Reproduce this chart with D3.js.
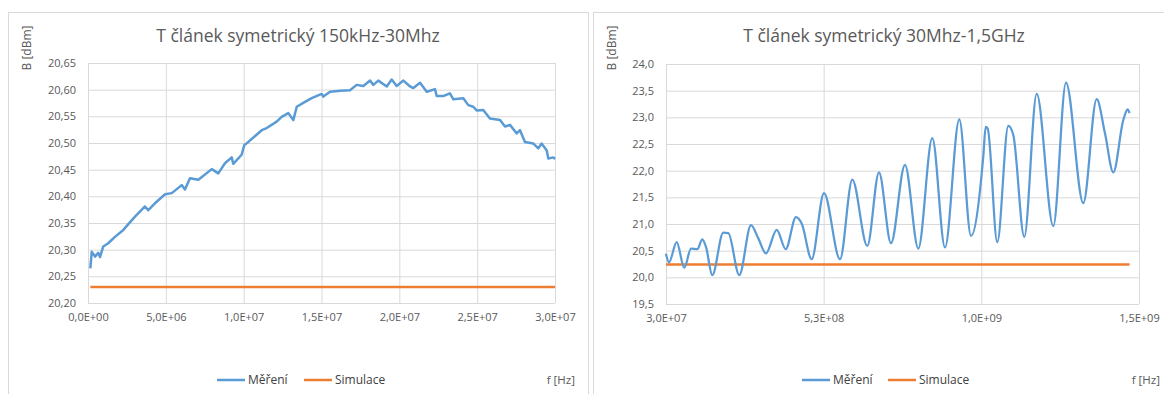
<!DOCTYPE html>
<html lang="cs">
<head>
  <meta charset="UTF-8">
  <style>
    body { margin: 0; background: #fff; }
    svg text { font-family: "Open Sans", sans-serif; fill: #595959; }
    .grid line { stroke: #d9d9d9; stroke-width: 1; }
    .tick text { font-size: 11px; }
    .title { font-size: 17.5px; }
    .frame { fill: none; stroke: #d9d9d9; }
  </style>
  <script src="https://d3js.org/d3.v7.min.js"></script>
</head>
<body>
<svg id="chart"></svg>
<script>

// levy graf: 150kHz - 30MHz (frekvence v MHz)
var freqLeft = [0.15, 0.24, 0.45, 0.66, 0.77, 0.98, 1.30, 1.73, 2.27, 2.59, 3.02, 3.66, 3.87, 4.30, 4.95,
  5.38, 6.02, 6.23, 6.55, 7.09, 7.95, 8.37, 8.80, 9.23, 9.33, 9.87, 10.04, 10.30, 11.16, 11.48, 12.12,
  12.44, 12.87, 13.19, 13.41, 13.94, 14.37, 15.01, 15.12, 15.55, 16.19, 16.83, 17.26, 17.69, 18.12,
  18.33, 18.65, 19.19, 19.51, 19.83, 20.26, 20.69, 20.90, 21.33, 21.76, 22.29, 22.40, 22.82, 23.25,
  23.47, 24.11, 24.43, 24.75, 24.97, 25.39, 25.82, 26.47, 26.79, 27.11, 27.54, 27.75, 28.07, 28.61,
  28.93, 29.14, 29.47, 29.57, 29.89, 30.0];
var measLeft = [20.265, 20.296, 20.287, 20.294, 20.286, 20.306, 20.312, 20.324, 20.337, 20.348, 20.362,
  20.381, 20.374, 20.387, 20.404, 20.406, 20.421, 20.413, 20.434, 20.431, 20.451, 20.443, 20.462,
  20.473, 20.461, 20.478, 20.496, 20.502, 20.524, 20.528, 20.540, 20.549, 20.556, 20.543, 20.568,
  20.577, 20.584, 20.592, 20.587, 20.596, 20.598, 20.599, 20.609, 20.607, 20.617, 20.609, 20.617,
  20.606, 20.619, 20.607, 20.617, 20.606, 20.603, 20.613, 20.596, 20.601, 20.588, 20.588, 20.593,
  20.582, 20.584, 20.571, 20.568, 20.561, 20.562, 20.546, 20.543, 20.531, 20.534, 20.518, 20.524,
  20.502, 20.499, 20.490, 20.499, 20.486, 20.471, 20.473, 20.470];
var simFreqLeft = [0.15, 30.0];
var simLeft = [20.23, 20.23];

// pravy graf: 30MHz - 1,5GHz (frekvence v MHz)
var freqRight = [30, 39.5, 63.9, 88.0, 109.3, 129.3, 145.1, 156.8, 176.8, 211.7, 227.6, 262.4, 299.5,
  322.7, 347.1, 381.1, 409.6, 442.3, 460.3, 492.0, 531.0, 581.8, 620.8, 668.4, 705.5, 743.5, 787.9,
  830.1, 874.5, 914.8, 960.1, 997.2, 1036.2, 1043.8, 1050.2, 1080.6, 1115.5, 1131.4, 1166.2, 1205.6,
  1258.2, 1298.5, 1353.3, 1395.8, 1422.1, 1448.5, 1480.2, 1494.1, 1500];
var measRight = [20.44, 20.28, 20.66, 20.18, 20.54, 20.53, 20.71, 20.57, 20.04, 20.84, 20.83, 20.04,
  20.98, 20.73, 20.45, 20.89, 20.53, 21.13, 21.01, 20.34, 21.58, 20.34, 21.83, 20.59, 21.97, 20.64,
  22.11, 20.54, 22.61, 20.56, 22.96, 20.78, 22.27, 22.82, 22.79, 20.66, 22.84, 22.67, 20.76, 23.44,
  20.96, 23.65, 21.39, 23.34, 22.70, 21.97, 22.95, 23.15, 23.08];
var simFreqRight = [30, 1500];
var simRight = [20.24, 20.24];

var legendNames = ['Měření', 'Simulace'];
var colors = ['#5b9bd5', '#ed7d31'];

var width = 1164, height = 394;
var svg = d3.select('#chart').attr('width', width).attr('height', height);

function sciFormat(v) {
  var s = v.toExponential(1).split('e');
  var exp = +s[1];
  return s[0].replace('.', ',') + 'E' + (exp < 0 ? '-' : '+') + d3.format('02d')(Math.abs(exp));
}

function drawChart(cfg) {
  var g = svg.append('g');

  g.append('rect')
    .attr('class', 'frame')
    .attr('x', cfg.box[0] + 0.5)
    .attr('y', 12.5)
    .attr('width', cfg.box[1] - cfg.box[0])
    .attr('height', height);

  var x = d3.scaleLinear().domain(cfg.xDomain).range([cfg.left, cfg.right]);
  var y = d3.scaleLinear().domain(cfg.yDomain).range([cfg.bottom, cfg.top]);

  var xTicks = d3.range(cfg.xDomain[0], cfg.xDomain[1] + 1, cfg.xStep);
  var yTicks = d3.range(0, 10).map(function(i) { return cfg.yDomain[0] + i * cfg.yStep; });

  // mrizka
  g.append('g')
    .attr('class', 'grid')
    .attr('transform', 'translate(0,' + cfg.bottom + ')')
    .call(d3.axisBottom(x).tickValues(xTicks).tickSize(-(cfg.bottom - cfg.top)).tickFormat(''))
    .call(function(s) { s.select('.domain').remove(); });
  g.append('g')
    .attr('class', 'grid')
    .attr('transform', 'translate(' + cfg.left + ',0)')
    .call(d3.axisLeft(y).tickValues(yTicks).tickSize(-(cfg.right - cfg.left)).tickFormat(''))
    .call(function(s) { s.select('.domain').remove(); });

  // popisky os
  g.append('g')
    .attr('transform', 'translate(0,' + cfg.bottom + ')')
    .call(d3.axisBottom(x).tickValues(xTicks).tickSize(0).tickPadding(10).tickFormat(sciFormat))
    .call(function(s) { s.select('.domain').remove(); s.selectAll('text').attr('fill', '#595959'); });
  g.append('g')
    .attr('transform', 'translate(' + cfg.left + ',0)')
    .call(d3.axisLeft(y).tickValues(yTicks).tickSize(0).tickPadding(12)
      .tickFormat(function(v) { return d3.format(cfg.yFmt)(v).replace('.', ','); }))
    .call(function(s) { s.select('.domain').remove(); s.selectAll('text').attr('fill', '#595959'); });

  var line = d3.line()
    .x(function(d) { return x(d[0] * 1e6); })
    .y(function(d) { return y(d[1]); })
    .curve(cfg.curve);

  var flat = d3.line()
    .x(function(d) { return x(d[0] * 1e6); })
    .y(function(d) { return y(d[1]); });

  g.append('path')
    .datum(d3.zip(cfg.simFreq, cfg.sim))
    .attr('fill', 'none')
    .attr('stroke', colors[1])
    .attr('stroke-width', 2.5)
    .attr('d', flat);

  g.append('path')
    .datum(d3.zip(cfg.freq, cfg.meas))
    .attr('fill', 'none')
    .attr('stroke', colors[0])
    .attr('stroke-width', cfg.lineW)
    .attr('stroke-linejoin', 'round')
    .attr('d', line);

  g.append('text')
    .attr('class', 'title')
    .attr('x', cfg.titleX)
    .attr('y', 42)
    .attr('text-anchor', 'middle')
    .text(cfg.title);

  g.append('text')
    .attr('transform', 'translate(' + cfg.yLabelX + ',48) rotate(-90)')
    .attr('text-anchor', 'middle')
    .attr('dy', '0.35em')
    .style('font-size', '12px')
    .text('B [dBm]');

  g.append('text')
    .attr('x', cfg.fLabelX)
    .attr('y', 380)
    .attr('dy', '0.35em')
    .attr('text-anchor', 'end')
    .style('font-size', '11.5px')
    .text('f [Hz]');

  // legenda
  var leg = g.selectAll('.leg')
    .data(legendNames)
    .enter()
    .append('g')
    .attr('class', 'leg')
    .attr('transform', function(d, i) { return 'translate(' + cfg.legendX[i] + ',380)'; });
  leg.append('line')
    .attr('x1', 0).attr('x2', 28)
    .attr('stroke', function(d, i) { return colors[i]; })
    .attr('stroke-width', 2.5);
  leg.append('text')
    .attr('x', 31)
    .attr('dy', '0.35em')
    .style('font-size', '12px')
    .style('fill', '#404040')
    .text(function(d) { return d; });
}

drawChart({
  box: [8, 588],
  left: 88, right: 555, top: 63, bottom: 303,
  xDomain: [0, 3e7], xStep: 5e6,
  yDomain: [20.2, 20.65], yStep: 0.05, yFmt: '.2f',
  freq: freqLeft, meas: measLeft, simFreq: simFreqLeft, sim: simLeft,
  curve: d3.curveLinear, lineW: 2.5,
  title: 'T článek symetrický 150kHz-30Mhz', titleX: 298,
  yLabelX: 27, fLabelX: 575,
  legendX: [217, 304]
});

drawChart({
  box: [593, 1175],
  left: 666, right: 1139, top: 64, bottom: 304,
  xDomain: [3e7, 1.53e9], xStep: 5e8,
  yDomain: [19.5, 24.0], yStep: 0.5, yFmt: '.1f',
  freq: freqRight, meas: measRight, simFreq: simFreqRight, sim: simRight,
  curve: d3.curveMonotoneX, lineW: 2.25,
  title: 'T článek symetrický 30Mhz-1,5GHz', titleX: 884,
  yLabelX: 612, fLabelX: 1160,
  legendX: [802, 888]
});

</script>
</body>
</html>
